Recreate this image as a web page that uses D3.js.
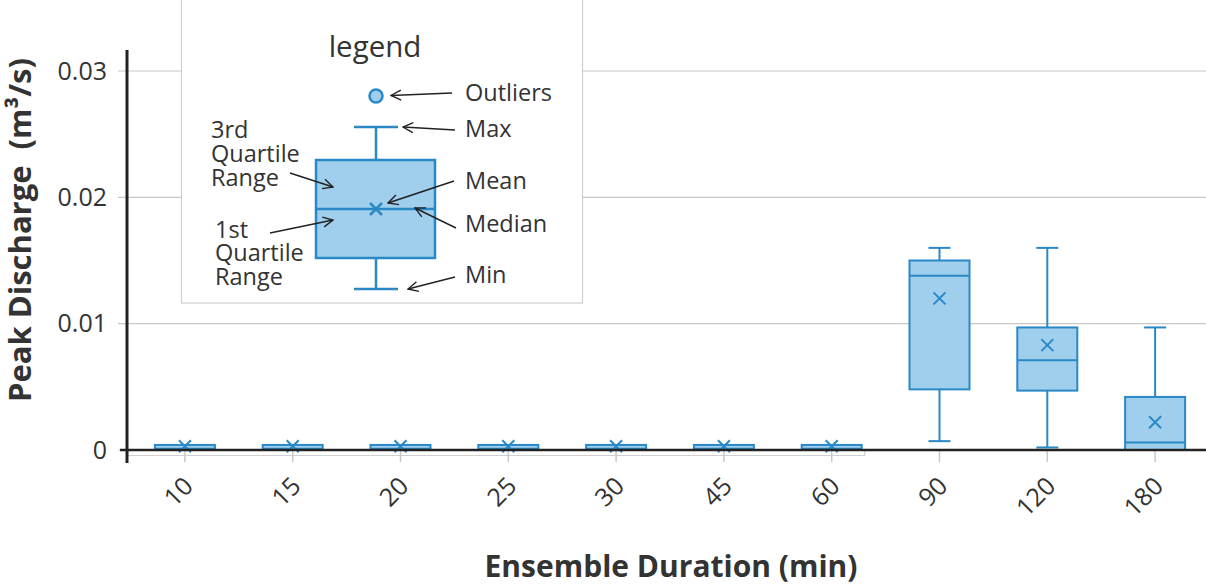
<!DOCTYPE html>
<html><head><meta charset="utf-8">
<script src="https://cdn.jsdelivr.net/npm/d3@7"></script>
<style>
html,body{margin:0;padding:0;background:#fff;}
svg{display:block;font-family:"Open Sans",sans-serif;}
</style></head>
<body><svg id="c" width="1206" height="584"></svg>
<script>
const categories = ["10","15","20","25","30","45","60","90","120","180"];
const minVals    = [0,0,0,0,0,0,0,0.0007,0.0002,0];
const q1Vals     = [0,0,0,0,0,0,0,0.0048,0.0047,0];
const medianVals = [0.0001,0.0001,0.0001,0.0001,0.0001,0.0001,0.0001,0.0138,0.0071,0.0006];
const q3Vals     = [0.0004,0.0004,0.0004,0.0004,0.0004,0.0004,0.0004,0.0150,0.0097,0.0042];
const maxVals    = [0.0004,0.0004,0.0004,0.0004,0.0004,0.0004,0.0004,0.0160,0.0160,0.0097];
const meanVals   = [0.0003,0.0003,0.0003,0.0003,0.0003,0.0003,0.0003,0.0120,0.0083,0.0022];
const yTicks = [0,0.01,0.02,0.03];
const yTickLabels = ["0","0.01","0.02","0.03"];

const FILL="#a0cfee", STROKE="#2a88c6", TXT="#333";
const svg=d3.select("#c");
const x=d3.scaleBand().domain(categories).range([131,1209]);
const y=d3.scaleLinear().domain([0,0.03]).range([450,71]);
const bw=60, cw=22;

// gridlines
svg.append("g").selectAll("line").data(yTicks.slice(1)).join("line")
  .attr("x1",118).attr("x2",1206).attr("y1",d=>y(d)).attr("y2",d=>y(d))
  .attr("stroke","#c8c8c8").attr("stroke-width",1.2);
svg.append("line").attr("x1",118).attr("x2",127).attr("y1",y(0)).attr("y2",y(0)).attr("stroke","#c8c8c8");

// y tick labels
svg.append("g").selectAll("text").data(yTicks).join("text")
  .attr("x",107).attr("y",d=>y(d)).attr("dy","0.35em").attr("text-anchor","end")
  .attr("font-size",25).attr("fill",TXT).text((d,i)=>yTickLabels[i]);

// light line below axis and x ticks
svg.append("path").attr("d",`M127,455.5H${x("60")+x.bandwidth()/2+33}V449`).attr("fill","none").attr("stroke","#d0d0d0").attr("stroke-width",1.2);
svg.append("g").selectAll("line").data(categories).join("line")
  .attr("x1",d=>x(d)+x.bandwidth()/2).attr("x2",d=>x(d)+x.bandwidth()/2)
  .attr("y1",451).attr("y2",462).attr("stroke","#c8c8c8").attr("stroke-width",1.5);

// x tick labels
svg.append("g").selectAll("text").data(categories).join("text")
  .attr("transform",d=>`translate(${x(d)+x.bandwidth()/2-3},475) rotate(-45)`)
  .attr("text-anchor","end").attr("dy","0.72em").attr("font-size",25).attr("fill",TXT).text(d=>d);

// boxes
const g=svg.append("g");
categories.forEach((c,i)=>{
  const cx=x(c)+x.bandwidth()/2;
  const b=g.append("g");
  if(maxVals[i]>q3Vals[i]){
    b.append("line").attr("x1",cx).attr("x2",cx).attr("y1",y(q3Vals[i])).attr("y2",y(maxVals[i])).attr("stroke",STROKE).attr("stroke-width",2);
    b.append("line").attr("x1",cx-cw/2).attr("x2",cx+cw/2).attr("y1",y(maxVals[i])).attr("y2",y(maxVals[i])).attr("stroke",STROKE).attr("stroke-width",2);
  }
  if(minVals[i]<q1Vals[i]){
    b.append("line").attr("x1",cx).attr("x2",cx).attr("y1",y(q1Vals[i])).attr("y2",y(minVals[i])).attr("stroke",STROKE).attr("stroke-width",2);
    b.append("line").attr("x1",cx-cw/2).attr("x2",cx+cw/2).attr("y1",y(minVals[i])).attr("y2",y(minVals[i])).attr("stroke",STROKE).attr("stroke-width",2);
  }
  b.append("rect").attr("x",cx-bw/2).attr("width",bw).attr("y",y(q3Vals[i])).attr("height",y(q1Vals[i])-y(q3Vals[i]))
    .attr("fill",FILL).attr("stroke",STROKE).attr("stroke-width",2);
  b.append("line").attr("x1",cx-bw/2).attr("x2",cx+bw/2).attr("y1",y(medianVals[i])).attr("y2",y(medianVals[i])).attr("stroke",STROKE).attr("stroke-width",2);
  const my=y(meanVals[i]), s=6;
  b.append("path").attr("d",`M${cx-s},${my-s}L${cx+s},${my+s}M${cx-s},${my+s}L${cx+s},${my-s}`).attr("stroke",STROKE).attr("stroke-width",2);
});

// axes lines
svg.append("line").attr("x1",120).attr("x2",1206).attr("y1",450).attr("y2",450).attr("stroke","#222").attr("stroke-width",2.5);
svg.append("line").attr("x1",127).attr("x2",127).attr("y1",50).attr("y2",463).attr("stroke","#222").attr("stroke-width",3);

// axis titles
svg.append("text").attr("x",671).attr("y",577).attr("text-anchor","middle").attr("font-size",30).attr("font-weight","bold").attr("fill",TXT).text("Ensemble Duration (min)");
svg.append("text").attr("transform","translate(31,230) rotate(-90)").attr("text-anchor","middle").attr("font-size",31).attr("font-weight","bold").attr("fill",TXT)
  .attr("xml:space","preserve").style("white-space","pre").text("Peak Discharge  (m³/s)");

// legend
const L=svg.append("g");
L.append("rect").attr("x",181.5).attr("y",-5).attr("width",401).attr("height",308).attr("fill","#fff").attr("stroke","#cfcfcf").attr("stroke-width",1.2);
L.append("text").attr("x",375).attr("y",57).attr("text-anchor","middle").attr("font-size",29.5).attr("fill",TXT).text("legend");
const lx=376;
L.append("line").attr("x1",lx).attr("x2",lx).attr("y1",127).attr("y2",160).attr("stroke",STROKE).attr("stroke-width",2.5);
L.append("line").attr("x1",lx-22).attr("x2",lx+22).attr("y1",127).attr("y2",127).attr("stroke",STROKE).attr("stroke-width",2.5);
L.append("line").attr("x1",lx).attr("x2",lx).attr("y1",258).attr("y2",289).attr("stroke",STROKE).attr("stroke-width",2.5);
L.append("line").attr("x1",lx-22).attr("x2",lx+22).attr("y1",289).attr("y2",289).attr("stroke",STROKE).attr("stroke-width",2.5);
L.append("rect").attr("x",316).attr("y",160).attr("width",119).attr("height",98).attr("fill",FILL).attr("stroke",STROKE).attr("stroke-width",2.5);
L.append("line").attr("x1",316).attr("x2",435).attr("y1",209).attr("y2",209).attr("stroke",STROKE).attr("stroke-width",2.5);
L.append("path").attr("d",`M${lx-6},${209-6}L${lx+6},${209+6}M${lx-6},${209+6}L${lx+6},${209-6}`).attr("stroke",STROKE).attr("stroke-width",2.5);
L.append("circle").attr("cx",lx).attr("cy",96).attr("r",6.5).attr("fill",FILL).attr("stroke",STROKE).attr("stroke-width",2.5);

const defs=svg.append("defs");
defs.append("marker").attr("id","ah").attr("viewBox","-1 -6 12 12").attr("refX",0).attr("refY",0)
  .attr("markerWidth",12).attr("markerHeight",12).attr("markerUnits","userSpaceOnUse").attr("orient","auto")
  .append("path").attr("d","M10,-5L0,0L10,5").attr("fill","none").attr("stroke","#222").attr("stroke-width",1.4);
const arrows=[[452,93,391,95.5],[455,130,403,127],[454,181,388,203],[456,228,415,208],[455,277,408,289],[290,173,333,187],[270,233,333,220]];
L.append("g").selectAll("line").data(arrows).join("line")
  .attr("x1",d=>d[2]).attr("y1",d=>d[3]).attr("x2",d=>d[0]).attr("y2",d=>d[1])
  .attr("stroke","#222").attr("stroke-width",1.4).attr("marker-start","url(#ah)");
const labels=[["Outliers",465,93],["Max",465,129],["Mean",465,181],["Median",465,224],["Min",465,275],
  ["3rd",211,130],["Quartile",211,154],["Range",211,178],["1st",215,230],["Quartile",215,253],["Range",215,277]];
L.append("g").selectAll("text").data(labels).join("text")
  .attr("x",d=>d[1]).attr("y",d=>d[2]).attr("dy","0.35em").attr("font-size",23.5).attr("fill",TXT).text(d=>d[0]);
</script></body></html>
